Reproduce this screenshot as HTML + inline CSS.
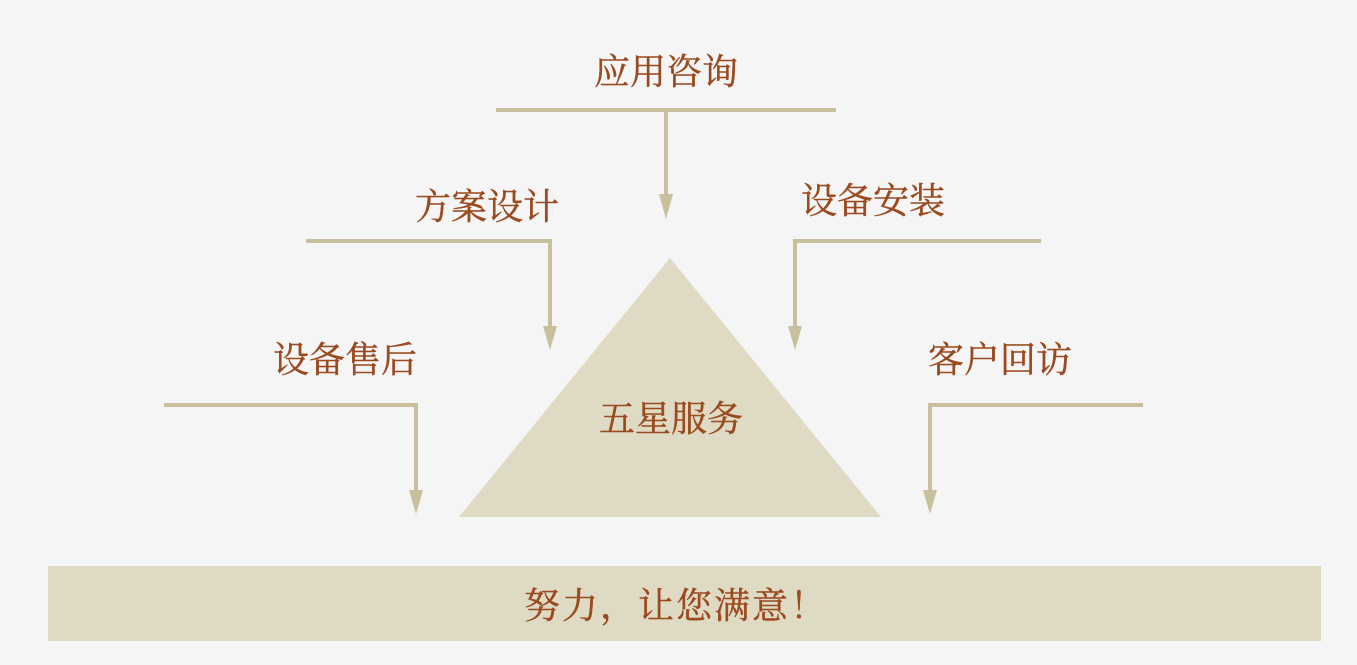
<!DOCTYPE html>
<html><head><meta charset="utf-8"><style>
html,body{margin:0;padding:0;background:#f5f5f5;}
svg{display:block}
text{font-family:"Liberation Serif","Noto Serif CJK SC",serif;font-size:36px;fill:#9a4a1f;text-anchor:middle;dominant-baseline:central;stroke:#9a4a1f;stroke-width:0.4}
</style></head><body>
<svg width="1357" height="665" viewBox="0 0 1357 665">
<rect width="1357" height="665" fill="#f5f5f5"/>
<polygon points="670,258 459,517 881,517" fill="#dedac4"/>
<rect x="48" y="566" width="1273" height="75" fill="#dedac4"/>
<g stroke="#c8c09c" stroke-width="4" fill="none">
<polyline points="496,110 836,110"/>
<polyline points="666,110 666,196"/>
<polyline points="306,241 550,241 550,328"/>
<polyline points="1041,241 795,241 795,328"/>
<polyline points="164,405 416,405 416,492"/>
<polyline points="1143,405 930,405 930,492"/>
</g>
<g fill="#c8c09c">
<polygon points="659,194 673,194 666,219"/>
<polygon points="543,326 557,326 550,350"/>
<polygon points="788,326 802,326 795,350"/>
<polygon points="409,490 423,490 416,514"/>
<polygon points="923,490 937,490 930,514"/>
</g>
<text x="666" y="72">应用咨询</text>
<text x="487" y="207">方案设计</text>
<text x="873" y="201">设备安装</text>
<text x="345" y="360">设备售后</text>
<text x="1000" y="360">客户回访</text>
<text x="671" y="419">五星服务</text>
<text x="676" y="606" style="letter-spacing:2px">努力，让您满意！</text>
</svg>
</body></html>
